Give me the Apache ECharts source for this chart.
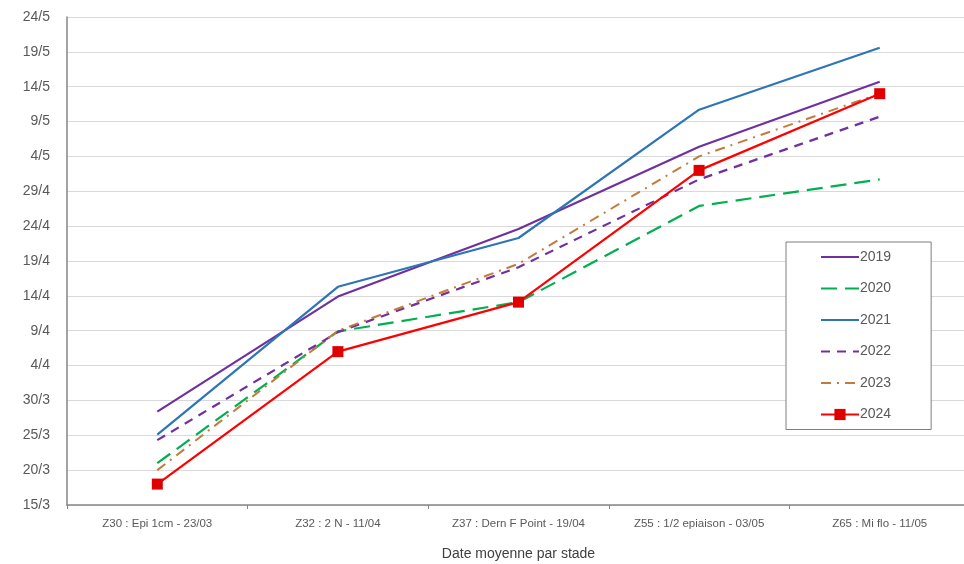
<!DOCTYPE html>
<html>
<head>
<meta charset="utf-8">
<script src="https://cdn.jsdelivr.net/npm/echarts@6/dist/echarts.min.js"></script>
<style>
  html, body { margin: 0; padding: 0; background: #fff; }
  #main { width: 964px; height: 564px; }
</style>
</head>
<body>
<div id="main"></div>
<script>
// stades (axe x)
var stades = [
  "Z30 : Epi 1cm - 23/03",
  "Z32 : 2 N - 11/04",
  "Z37 : Dern F Point - 19/04",
  "Z55 : 1/2 epiaison - 03/05",
  "Z65 : Mi flo - 11/05"
];
// valeurs = jours depuis le 15/3
var y2019 = [13.4, 29.9, 39.6, 51.4, 60.7];
var y2020 = [6.0, 24.9, 29.1, 42.9, 46.7];
var y2021 = [10.1, 31.3, 38.3, 56.7, 65.6];
var y2022 = [9.3, 24.8, 34.1, 46.7, 55.7];
var y2023 = [5.0, 25.0, 34.6, 50.0, 59.0];
var y2024 = [3.0, 22.0, 29.1, 48.0, 59.0];
var annees = ["2019", "2020", "2021", "2022", "2023", "2024"];

var yMin = 0, yMax = 70, yStep = 5;

function dateLabel(v) {
  var d = new Date(2024, 2, 15 + v);
  return d.getDate() + "/" + (d.getMonth() + 1);
}

var txt = "#595959";
var font = "Liberation Sans";

var myChart = echarts.init(document.getElementById("main"));
var option = {
  backgroundColor: "#fff",
  animation: false,
  grid: { left: 67, right: -6, top: 17, bottom: 59, containLabel: false, outerBoundsMode: "none" },
  legend: {
    orient: "vertical",
    left: 786,
    top: 242,
    width: 150,
    height: 188,
    padding: [8, 40, 8, 34],
    itemGap: 17.5,
    itemWidth: 38,
    itemHeight: 14,
    borderColor: "#7f7f7f",
    borderWidth: 1,
    backgroundColor: "#fff",
    textStyle: { color: txt, fontSize: 14, fontFamily: font, padding: [0, 0, 0, -4] },
    data: annees.map(function (a) {
      return a === "2024" ? { name: a } : { name: a, itemStyle: { opacity: 0 } };
    })
  },
  xAxis: {
    type: "category",
    data: stades,
    boundaryGap: true,
    axisLine: { show: true, lineStyle: { color: "#868686", width: 1.5 } },
    axisTick: { show: true, length: 4, inside: false, lineStyle: { color: "#868686" } },
    axisLabel: { color: txt, fontSize: 11.5, fontFamily: font, margin: 13, interval: 0 },
    name: "Date moyenne par stade",
    nameLocation: "middle",
    nameGap: 42,
    nameTextStyle: { color: "#404040", fontSize: 14, fontFamily: font }
  },
  yAxis: {
    type: "value",
    min: yMin,
    max: yMax,
    interval: yStep,
    axisLine: { show: true, lineStyle: { color: "#868686", width: 1.5 } },
    axisTick: { show: false },
    splitLine: { show: true, lineStyle: { color: "#d9d9d9", width: 1 } },
    axisLabel: { color: txt, fontSize: 14, fontFamily: font, margin: 17, formatter: dateLabel }
  },
  series: [
    {
      name: "2019", type: "line", data: y2019, symbol: "none",
      lineStyle: { color: "#7030a0", width: 2.2 }, itemStyle: { color: "#7030a0" }
    },
    {
      name: "2020", type: "line", data: y2020, symbol: "none",
      lineStyle: { color: "#00b050", width: 2.2, type: [16, 8] }, itemStyle: { color: "#00b050" }
    },
    {
      name: "2021", type: "line", data: y2021, symbol: "none",
      lineStyle: { color: "#2e75b6", width: 2.2 }, itemStyle: { color: "#2e75b6" }
    },
    {
      name: "2022", type: "line", data: y2022, symbol: "none",
      lineStyle: { color: "#7030a0", width: 2.2, type: [9, 7] }, itemStyle: { color: "#7030a0" }
    },
    {
      name: "2023", type: "line", data: y2023, symbol: "none",
      lineStyle: { color: "#c47a3a", width: 2, type: [10, 6, 2, 6] }, itemStyle: { color: "#c47a3a" }
    },
    {
      name: "2024", type: "line", data: y2024, symbol: "rect", symbolSize: 11,
      lineStyle: { color: "#ff0000", width: 2.2 }, itemStyle: { color: "#e00000" }
    }
  ]
};
myChart.setOption(option);
</script>
</body>
</html>
